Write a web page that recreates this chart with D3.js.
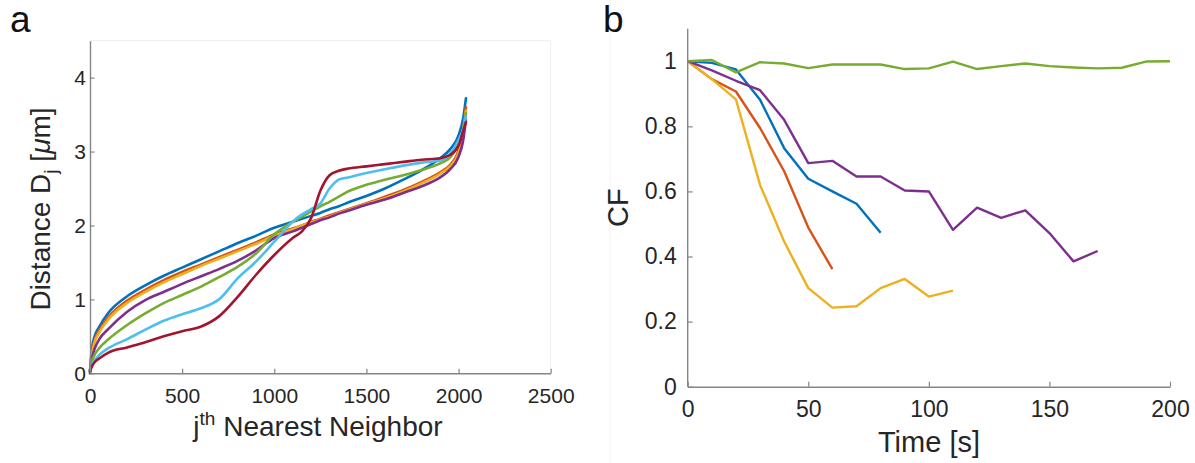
<!DOCTYPE html>
<html>
<head>
<meta charset="utf-8">
<script src="https://cdn.jsdelivr.net/npm/d3@7"></script>
<style>
  html, body { margin: 0; padding: 0; background: #fff; }
  svg { display: block; font-family: "Liberation Sans", Arial, sans-serif; }
</style>
</head>
<body>
<svg id="fig" width="1195" height="463"></svg>
<script>
// ---------- Panel a: sorted nearest-neighbour distances ----------
const neighborIndex = [0, 5, 12, 25, 50, 100, 200, 300, 400, 500, 600, 700, 800, 900, 1000,
  1100, 1150, 1200, 1250, 1300, 1350, 1400, 1500, 1600, 1700, 1800, 1900, 1950, 2000, 2025, 2040];

const distBlue   = [0.03, 0.20, 0.36, 0.50, 0.63, 0.82, 1.04, 1.19, 1.32, 1.43, 1.54, 1.65, 1.76, 1.86, 1.97,
  2.05, 2.09, 2.13, 2.17, 2.22, 2.26, 2.31, 2.40, 2.50, 2.62, 2.75, 2.91, 3.02, 3.22, 3.45, 3.72];
const distOrange = [0.03, 0.16, 0.30, 0.45, 0.58, 0.76, 0.98, 1.13, 1.26, 1.37, 1.47, 1.57, 1.67, 1.77, 1.88,
  1.96, 2.00, 2.05, 2.09, 2.14, 2.18, 2.22, 2.30, 2.39, 2.48, 2.59, 2.72, 2.81, 3.02, 3.30, 3.60];
const distYellow = [0.03, 0.15, 0.28, 0.42, 0.55, 0.73, 0.95, 1.10, 1.23, 1.34, 1.45, 1.55, 1.65, 1.75, 1.86,
  1.95, 2.00, 2.04, 2.08, 2.12, 2.17, 2.21, 2.29, 2.37, 2.46, 2.57, 2.70, 2.79, 2.98, 3.25, 3.55];
const distPurple = [0.03, 0.12, 0.22, 0.33, 0.46, 0.60, 0.83, 0.99, 1.10, 1.21, 1.31, 1.41, 1.52, 1.66, 1.83,
  1.92, 1.97, 2.02, 2.07, 2.11, 2.16, 2.20, 2.28, 2.35, 2.44, 2.53, 2.65, 2.75, 2.93, 3.15, 3.43];
const distGreen  = [0.03, 0.10, 0.17, 0.25, 0.34, 0.46, 0.65, 0.81, 0.95, 1.06, 1.17, 1.30, 1.44, 1.62, 1.88,
  2.05, 2.12, 2.19, 2.26, 2.32, 2.39, 2.46, 2.55, 2.62, 2.68, 2.75, 2.84, 2.91, 3.11, 3.30, 3.52];
const distCyan   = [0.02, 0.08, 0.12, 0.17, 0.25, 0.34, 0.46, 0.59, 0.71, 0.80, 0.88, 1.00, 1.28, 1.51, 1.78,
  2.05, 2.15, 2.22, 2.30, 2.50, 2.62, 2.65, 2.71, 2.76, 2.81, 2.85, 2.88, 2.96, 3.16, 3.30, 3.47];
const distRed    = [0.00, 0.06, 0.10, 0.15, 0.20, 0.28, 0.35, 0.42, 0.50, 0.57, 0.63, 0.77, 1.03, 1.33, 1.60,
  1.83, 1.92, 2.10, 2.47, 2.68, 2.74, 2.77, 2.80, 2.83, 2.86, 2.89, 2.91, 2.95, 3.08, 3.28, 3.40];

const xTicksA = [0, 500, 1000, 1500, 2000, 2500];
const yTicksA = [0, 1, 2, 3, 4];

// ---------- Panel b: CF over time ----------
const timeSec = [0, 10, 20, 30, 40, 50, 60, 70, 80, 90, 100, 110, 120, 130, 140, 150, 160, 170, 180, 190, 200];

const cfBlue   = [1.0, 0.995, 0.975, 0.882, 0.733, 0.639, 0.600, 0.562, 0.473];
const cfOrange = [1.0, 0.945, 0.907, 0.795, 0.662, 0.489, 0.361];
const cfYellow = [1.0, 0.945, 0.883, 0.620, 0.446, 0.303, 0.243, 0.247, 0.303, 0.331, 0.277, 0.295];
const cfPurple = [1.0, 0.972, 0.940, 0.911, 0.820, 0.687, 0.694, 0.646, 0.646, 0.603, 0.600, 0.482,
  0.550, 0.519, 0.542, 0.472, 0.385, 0.417];
const cfGreen  = [1.0, 1.004, 0.966, 0.997, 0.993, 0.979, 0.990, 0.990, 0.990, 0.976, 0.978, 0.999,
  0.976, 0.985, 0.993, 0.985, 0.981, 0.978, 0.980, 0.999, 1.0];

const xTicksB = [0, 50, 100, 150, 200];
const yTicksB = [0, 0.2, 0.4, 0.6, 0.8, 1];

// MATLAB default line colours
const C = {
  blue: "#0072BD", orange: "#D95319", yellow: "#EDB120", purple: "#7E2F8E",
  green: "#77AC30", cyan: "#4DBEEE", red: "#A2142F"
};

const svg = d3.select("#fig");
const axisColor = "#858585";
const textColor = "#262626";

function styleAxis(g, fontSize) {
  g.select(".domain").attr("stroke", axisColor).attr("stroke-width", 1.4);
  g.selectAll(".tick line").attr("stroke", axisColor).attr("stroke-width", 1.2);
  g.selectAll(".tick text").attr("fill", textColor).style("font-size", fontSize + "px")
    .style("font-family", '"Liberation Sans", Arial, sans-serif');
}

// ===== Panel a =====
const xa = d3.scaleLinear().domain([0, 2500]).range([90, 550.7]);
const ya = d3.scaleLinear().domain([0, 4.5]).range([373.3, 40.7]);

// faint box edges (top and right)
svg.append("line").attr("x1", xa(0)).attr("x2", xa(2500)).attr("y1", ya(4.5)).attr("y2", ya(4.5))
  .attr("stroke", "#efefef").attr("stroke-width", 1);
svg.append("line").attr("x1", xa(2500)).attr("x2", xa(2500)).attr("y1", ya(4.5)).attr("y2", ya(0))
  .attr("stroke", "#efefef").attr("stroke-width", 1);

const seriesA = [
  { v: distBlue, c: C.blue }, { v: distOrange, c: C.orange }, { v: distYellow, c: C.yellow },
  { v: distPurple, c: C.purple }, { v: distGreen, c: C.green }, { v: distCyan, c: C.cyan },
  { v: distRed, c: C.red }
];
const lineA = d3.line().x(d => xa(d[0])).y(d => ya(d[1])).curve(d3.curveMonotoneX);
svg.append("g").selectAll("path").data(seriesA).join("path")
  .attr("d", s => lineA(neighborIndex.map((j, i) => [j, s.v[i]])))
  .attr("fill", "none").attr("stroke", s => s.c).attr("stroke-width", 2.6)
  .attr("stroke-linejoin", "round").attr("stroke-linecap", "round");

const gxa = svg.append("g").attr("transform", `translate(0,${ya(0)})`)
  .call(d3.axisBottom(xa).tickValues(xTicksA).tickFormat(d => String(d))
    .tickSizeInner(-4.5).tickSizeOuter(0).tickPadding(14.5));
styleAxis(gxa, 21);
const gya = svg.append("g").attr("transform", `translate(${xa(0)},0)`)
  .call(d3.axisLeft(ya).tickValues(yTicksA).tickFormat(d => String(d))
    .tickSizeInner(-4.5).tickSizeOuter(0).tickPadding(4));
styleAxis(gya, 21);

// x label: j^th Nearest Neighbor
const xlabA = svg.append("text").attr("x", 318).attr("y", 436).attr("text-anchor", "middle")
  .attr("fill", textColor).style("font-size", "28px");
xlabA.append("tspan").text("j");
xlabA.append("tspan").attr("dy", -11).style("font-size", "19px").text("th");
xlabA.append("tspan").attr("dy", 11).text(" Nearest Neighbor");

// y label: Distance D_j [μm]
const ylabA = svg.append("text").attr("transform", `translate(50,${(ya(0) + ya(4.5)) / 2 + 2}) rotate(-90)`)
  .attr("text-anchor", "middle").attr("fill", textColor).style("font-size", "28px");
ylabA.append("tspan").text("Distance D");
ylabA.append("tspan").attr("dy", 7).style("font-size", "19px").text("j");
ylabA.append("tspan").attr("dy", -7).text(" [");
ylabA.append("tspan").style("font-style", "italic").text("μ");
ylabA.append("tspan").text("m]");

svg.append("text").attr("x", 10).attr("y", 32).attr("fill", "#111")
  .style("font-size", "37px").text("a");

// ===== Panel b =====
const xb = d3.scaleLinear().domain([0, 200]).range([687.7, 1170]);
const yb = d3.scaleLinear().domain([0, 1.1]).range([386.7, 28.7]);

// faint figure edge left of panel b
svg.append("line").attr("x1", 610).attr("x2", 610).attr("y1", 0).attr("y2", 463)
  .attr("stroke", "#f4f4f4").attr("stroke-width", 1);

const seriesB = [
  { v: cfBlue, c: C.blue }, { v: cfOrange, c: C.orange }, { v: cfYellow, c: C.yellow },
  { v: cfPurple, c: C.purple }, { v: cfGreen, c: C.green }
];
const lineB = d3.line().x(d => xb(d[0])).y(d => yb(d[1]));
svg.append("g").selectAll("path").data(seriesB).join("path")
  .attr("d", s => lineB(s.v.map((v, i) => [timeSec[i], v])))
  .attr("fill", "none").attr("stroke", s => s.c).attr("stroke-width", 2.4)
  .attr("stroke-linejoin", "round");

const gxb = svg.append("g").attr("transform", `translate(0,${yb(0)})`)
  .call(d3.axisBottom(xb).tickValues(xTicksB).tickFormat(d => String(d))
    .tickSizeInner(-5).tickSizeOuter(0).tickPadding(14));
styleAxis(gxb, 23);
const gyb = svg.append("g").attr("transform", `translate(${xb(0)},0)`)
  .call(d3.axisLeft(yb).tickValues(yTicksB).tickFormat(d => String(d))
    .tickSizeInner(-5).tickSizeOuter(0).tickPadding(11));
styleAxis(gyb, 23);
// extend y axis line to top of range
gyb.select(".domain").attr("d", `M0,${yb(0)}V${yb(1.1)}`);

svg.append("text").attr("x", 929).attr("y", 452).attr("text-anchor", "middle")
  .attr("fill", textColor).style("font-size", "29px").text("Time [s]");
svg.append("text").attr("transform", `translate(628,${(yb(0) + yb(1.1)) / 2}) rotate(-90)`)
  .attr("text-anchor", "middle").attr("fill", textColor).style("font-size", "29px").text("CF");

svg.append("text").attr("x", 603).attr("y", 32).attr("fill", "#111")
  .style("font-size", "37px").text("b");
</script>
</body>
</html>
